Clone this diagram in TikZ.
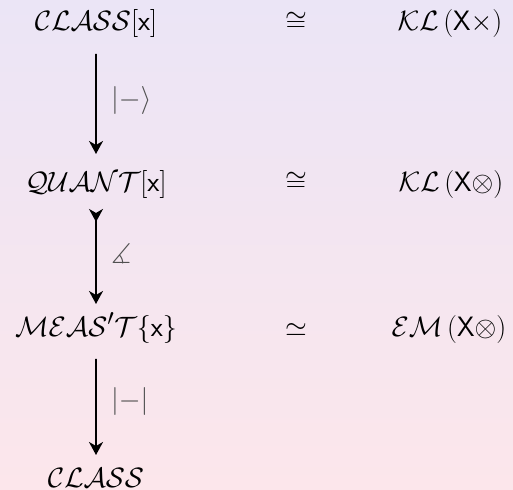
\documentclass[tikz,border=0pt]{standalone}
\usepackage{amssymb}
\usetikzlibrary{arrows.meta}
\definecolor{bgtop}{RGB}{235,229,246}
\definecolor{bgbot}{RGB}{252,230,235}
\definecolor{lblgray}{RGB}{80,80,80}
\begin{document}
\begin{tikzpicture}[x=1pt,y=-1pt,
    txt/.style={anchor=base,inner sep=0pt,scale=1.125,font=\fontsize{24.88}{30}\selectfont},
    obj/.style={txt,inner sep=14pt,text height=18.7pt,text depth=6.2pt},
    lbl/.style={right,inner sep=0pt,xshift=14pt,yshift=3pt,scale=1.125,text=lblgray,font=\fontsize{24.88}{30}\selectfont},
    map/.style={line width=1.8pt,-{Stealth[length=13pt,width=14pt,inset=4pt]}},
    mono/.style={line width=1.8pt,{Stealth[length=13pt,width=14pt,inset=4pt,reversed]}-{Stealth[length=13pt,width=14pt,inset=4pt]}}]
    % background
    \shade[top color=bgtop,bottom color=bgbot] (0,0) rectangle (513,489);
    \useasboundingbox (0,0) rectangle (513,489);
    % left column
    \node[obj] (clsx) at (96,31) {$\mathcal{CLASS}[\mathsf{x}]$};
    \node[obj] (quant) at (96,191) {$\mathcal{QUANT}[\mathsf{x}]$};
    \node[obj] (meas) at (96,336) {$\mathcal{MEAS}'\mathcal{T}\{\mathsf{x}\}$};
    \node[obj] (cls) at (96,487) {$\mathcal{CLASS}$};
    % middle and right columns
    \node[txt] (iso1) at (296,31) {$\cong$};
    \node[txt] (iso2) at (296,191) {$\cong$};
    \node[txt] (iso3) at (296,336) {$\simeq$};
    \node[txt] (kl1) at (450,31) {$\mathcal{KL}\,(\mathsf{X}\times)$};
    \node[txt] (kl2) at (451,191) {$\mathcal{KL}\,(\mathsf{X}\otimes)$};
    \node[txt] (em) at (449,336) {$\mathcal{EM}\,(\mathsf{X}\otimes)$};
    % maps
    \draw[map] (clsx) -- node[lbl] {$|{-}\rangle$} (quant);
    \draw[mono,shorten <=-5pt,shorten >=-5pt] (quant) -- node[lbl] {$\measuredangle$} (meas);
    \draw[map,shorten >=-5pt] (meas) -- node[lbl] {$|{-}|$} (cls);
\end{tikzpicture}
\end{document}
